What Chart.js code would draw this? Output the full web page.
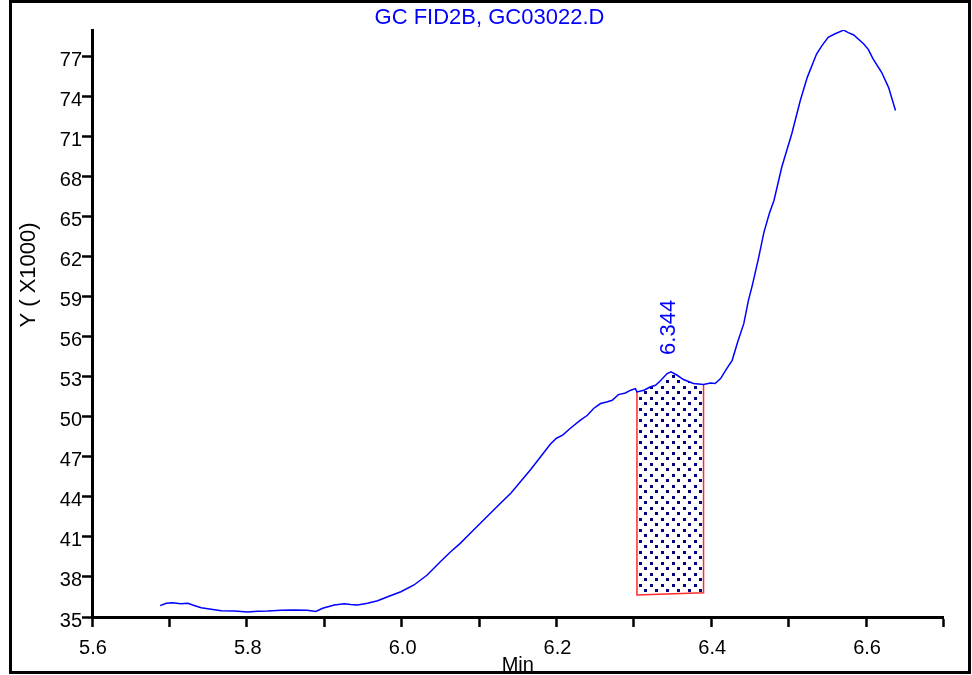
<!DOCTYPE html>
<html>
<head>
<meta charset="utf-8">
<script src="https://cdn.jsdelivr.net/npm/chart.js@4.4.0/dist/chart.umd.min.js"></script>
<style>
  html, body { margin: 0; padding: 0; background: #fff; }
  canvas { display: block; }
</style>
</head>
<body>
<canvas id="chrom" width="972" height="675"></canvas>
<script>
// retention time (min) and detector signal (x1000)
var timeMin = [5.688, 5.696, 5.704, 5.715, 5.724, 5.730, 5.741, 5.754, 5.767, 5.784,
               5.801, 5.814, 5.827, 5.844, 5.861, 5.878, 5.889, 5.898, 5.913, 5.926,
               5.934, 5.943, 5.956, 5.969, 5.982, 5.999, 6.016, 6.033, 6.050, 6.063,
               6.076, 6.089, 6.102, 6.115, 6.128, 6.141, 6.154, 6.167, 6.179, 6.192,
               6.200, 6.208, 6.218, 6.231, 6.240, 6.248, 6.257, 6.265, 6.272, 6.280,
               6.289, 6.296, 6.302, 6.304, 6.313, 6.321, 6.328, 6.334, 6.343, 6.348,
               6.356, 6.364, 6.377, 6.390, 6.399, 6.405, 6.412, 6.420, 6.427, 6.434,
               6.442, 6.448, 6.453, 6.461, 6.468, 6.475, 6.481, 6.491, 6.504, 6.515,
               6.524, 6.536, 6.543, 6.551, 6.560, 6.571, 6.577, 6.584, 6.597, 6.603,
               6.609, 6.620, 6.629, 6.638];
var signal = [35.85, 36.03, 36.07, 36.00, 36.03, 35.90, 35.70, 35.58, 35.47, 35.45,
              35.37, 35.43, 35.45, 35.50, 35.52, 35.50, 35.41, 35.65, 35.90, 36.00,
              35.94, 35.90, 36.03, 36.22, 36.52, 36.89, 37.40, 38.15, 39.14, 39.87,
              40.54, 41.29, 42.04, 42.79, 43.54, 44.28, 45.18, 46.08, 46.98, 47.95,
              48.40, 48.63, 49.15, 49.75, 50.12, 50.63, 51.00, 51.12, 51.25, 51.67,
              51.79, 52.00, 52.12, 51.87, 52.00, 52.24, 52.37, 52.69, 53.25, 53.37,
              53.12, 52.80, 52.50, 52.42, 52.54, 52.50, 52.87, 53.62, 54.24, 55.59,
              56.99, 58.73, 59.86, 61.88, 63.83, 65.25, 66.22, 68.71, 71.22, 73.71,
              75.45, 77.20, 77.83, 78.45, 78.72, 78.99, 78.80, 78.63, 77.95, 77.53,
              76.83, 75.83, 74.70, 72.96];

// integrated peak
var peakRT = [6.344];
var peakBaseTime = [6.304, 6.390];
var peakBaseSignal = [36.65, 36.82];

var xTicks = [5.6, 5.7, 5.8, 5.9, 6.0, 6.1, 6.2, 6.3, 6.4, 6.5, 6.6, 6.7];
var xLabels = [5.6, 5.8, 6.0, 6.2, 6.4, 6.6];
var yTicks = [35, 38, 41, 44, 47, 50, 53, 56, 59, 62, 65, 68, 71, 74, 77];

var FONT = "'Liberation Sans', Arial, sans-serif";

var canvas = document.getElementById('chrom');

function dotPattern() {
    var c = document.createElement('canvas');
    c.width = 11; c.height = 11;
    var g = c.getContext('2d');
    g.fillStyle = '#000080';
    g.fillRect(1, 1, 3, 3);
    g.fillRect(6, 6, 3, 3);
    return canvas.getContext('2d').createPattern(c, 'repeat');
}

var curvePts = timeMin.map(function(t, i) { return { x: t, y: signal[i] }; });
var inPeak = curvePts.filter(function(p) { return p.x >= peakBaseTime[0] && p.x <= peakBaseTime[1]; });

var regionPts = [{ x: peakBaseTime[0], y: peakBaseSignal[0] }]
    .concat(inPeak)
    .concat([{ x: peakBaseTime[1], y: peakBaseSignal[1] }]);

var outlinePts = [
    inPeak[0],
    { x: peakBaseTime[0], y: peakBaseSignal[0] },
    { x: peakBaseTime[1], y: peakBaseSignal[1] },
    inPeak[inPeak.length - 1]
];

// texts that are not scale titles, plus the outer frame
var annotate = {
    id: 'annotate',
    afterDraw: function(chart) {
        var ctx = chart.ctx, xs = chart.scales.x, ys = chart.scales.y;
        var top = Math.max.apply(null, inPeak.map(function(p) { return p.y; }));

        ctx.save();
        ctx.translate(xs.getPixelForValue(peakRT[0]) + 7.5, ys.getPixelForValue(top) - 17);
        ctx.rotate(-Math.PI / 2);
        ctx.font = '22px ' + FONT;
        ctx.fillStyle = '#0000ff';
        ctx.textAlign = 'left';
        ctx.textBaseline = 'alphabetic';
        ctx.fillText(peakRT[0].toFixed(3), 0, 0);
        ctx.restore();

        ctx.save();
        ctx.translate(35, 275);
        ctx.rotate(-Math.PI / 2);
        ctx.font = '22px ' + FONT;
        ctx.fillStyle = '#000';
        ctx.textAlign = 'center';
        ctx.textBaseline = 'alphabetic';
        ctx.fillText('Y ( X1000)', 0, 0);
        ctx.restore();

        ctx.save();
        ctx.lineWidth = 3;
        ctx.strokeStyle = '#000';
        ctx.strokeRect(10.5, 1.5, 959, 671);
        ctx.restore();
    }
};

var tickFont = { family: FONT, size: 20, weight: 'normal' };

var chart = new Chart(canvas, {
    type: 'line',
    data: {
        datasets: [{
            data: curvePts,
            borderColor: '#0000ff',
            borderWidth: 1.5,
            pointRadius: 0,
            fill: false,
            order: 0
        }, {
            data: outlinePts,
            borderColor: '#ff2a2a',
            borderWidth: 1.5,
            pointRadius: 0,
            fill: false,
            order: 1
        }, {
            data: regionPts,
            borderColor: 'rgba(0,0,0,0)',
            borderWidth: 0,
            backgroundColor: dotPattern(),
            pointRadius: 0,
            fill: 'shape',
            order: 2
        }]
    },
    options: {
        responsive: false,
        animation: false,
        devicePixelRatio: 1,
        layout: { padding: { left: 10, right: 3, top: 0, bottom: 0 } },
        plugins: {
            legend: { display: false },
            tooltip: { enabled: false },
            title: {
                display: true,
                text: 'GC FID2B, GC03022.D',
                color: '#0000ff',
                font: { family: FONT, size: 22, weight: 'normal', lineHeight: 1.1 },
                padding: { top: 5.4, bottom: 0.4 }
            }
        },
        scales: {
            x: {
                type: 'linear',
                min: 5.6,
                max: 6.7,
                afterBuildTicks: function(s) { s.ticks = xTicks.map(function(v) { return { value: v }; }); },
                afterFit: function(s) { s.height = 58; },
                ticks: {
                    autoSkip: false,
                    maxRotation: 0,
                    padding: 9,
                    labelOffset: 1,
                    color: '#000',
                    font: tickFont,
                    callback: function(v) {
                        return xLabels.indexOf(Math.round(v * 10) / 10) >= 0 ? v.toFixed(1) : '';
                    }
                },
                grid: { drawOnChartArea: false, drawTicks: true, tickLength: 10, tickWidth: 2.5, tickColor: '#000' },
                border: { display: true, color: '#000', width: 3 },
                title: {
                    display: true,
                    text: 'Min',
                    color: '#000',
                    font: { family: FONT, size: 20, weight: 'normal', lineHeight: 1 },
                    padding: 0
                }
            },
            y: {
                min: 35,
                max: 79,
                afterBuildTicks: function(s) { s.ticks = yTicks.map(function(v) { return { value: v }; }); },
                afterFit: function(s) { s.width = 82; },
                ticks: {
                    autoSkip: false,
                    padding: 0,
                    labelOffset: 4,
                    color: '#000',
                    font: tickFont
                },
                grid: { drawOnChartArea: false, drawTicks: true, tickLength: 10, tickWidth: 2.5, tickColor: '#000' },
                border: { display: true, color: '#000', width: 3 }
            },
            yR: {
                position: 'right',
                ticks: { display: false },
                grid: { display: false },
                border: { display: false },
                afterFit: function(s) { s.width = 25.5; }
            }
        }
    },
    plugins: [annotate]
});
</script>
</body>
</html>
